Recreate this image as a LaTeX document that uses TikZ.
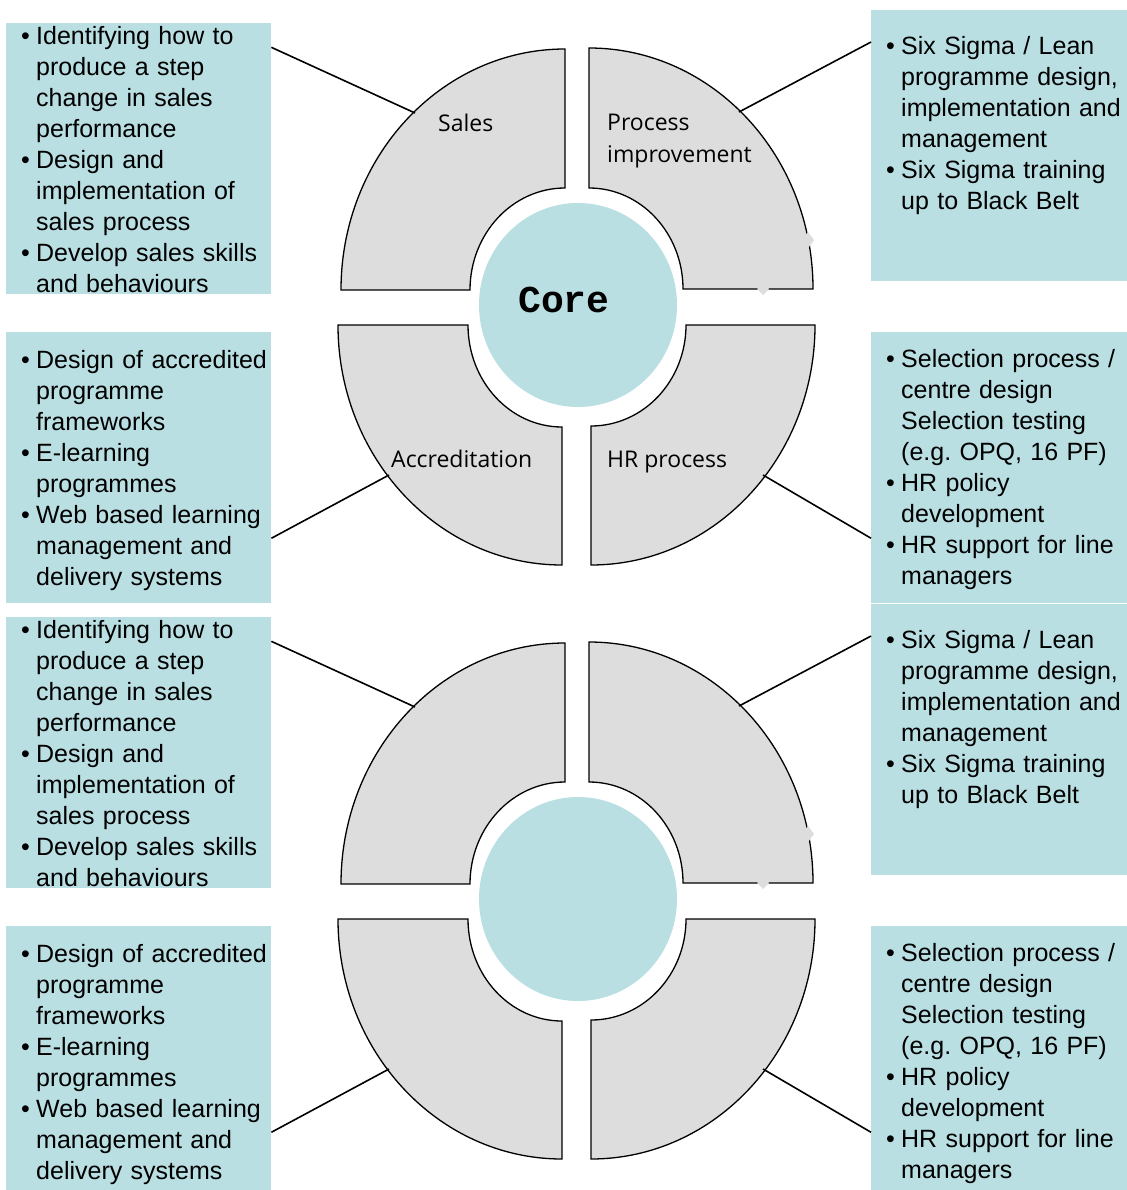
\documentclass[tikz,border=0pt]{standalone}
\usepackage{fontspec}
\setmainfont{Liberation Sans}
\newfontfamily\quadfont{Open Sans}
\newfontfamily\corefont{Liberation Mono}
\usetikzlibrary{positioning,shapes.geometric}

\definecolor{boxblue}{RGB}{185,223,227}
\definecolor{quadgray}{RGB}{221,221,221}

\newcommand{\itm}[1]{\par\hangindent=15pt\hangafter=1\noindent\makebox[15pt][l]{\strut\textbullet}#1\par}

\tikzset{
	infobox/.style={rectangle, fill=boxblue, minimum width=265pt, minimum height=271pt, inner sep=0pt, anchor=north west},
	listtext/.style={inner sep=0pt, text width=250pt, font=\fontsize{25}{31}\selectfont\raggedright},
	quad/.style={fill=quadgray, draw=black, line width=1.3pt},
	quadlabel/.style={font=\quadfont\fontsize{23}{32}\selectfont, inner sep=0pt, anchor=base west, align=left},
	link/.style={draw=black, line width=1.6pt},
}

\begin{document}
\begin{tikzpicture}[x=1pt, y=-1pt]
		\useasboundingbox (0,0) rectangle (1126,1190);
		
		\foreach \dy/\n in {0/a,594/b}{
		\begin{scope}[shift={(0,\dy)}]
		% text boxes
		\node[infobox] (salesbox\n) at (6,23) {};
		\node[infobox] (procbox\n) at (871,10) {};
		\node[infobox] (accbox\n) at (6,332) {};
		\node[infobox] (hrbox\n) at (871,332) {};
		
		\node[listtext, below right=-10pt and 15pt of salesbox\n.north west] (salestext\n) {%
			\itm{Identifying how to\newline produce a step\newline change in sales\newline performance}
			\itm{Design and\newline implementation of\newline sales process}
			\itm{Develop sales skills\newline and behaviours}};
		\node[listtext, below right=13pt and 15pt of procbox\n.north west] (proctext\n) {%
			\itm{Six Sigma / Lean\newline programme design,\newline implementation and\newline management}
			\itm{Six Sigma training\newline up to Black Belt}};
		\node[listtext, below right=5pt and 15pt of accbox\n.north west] (acctext\n) {%
			\itm{Design of accredited\newline programme\newline frameworks}
			\itm{E-learning\newline programmes}
			\itm{Web based learning\newline management and\newline delivery systems}};
		\node[listtext, below right=4pt and 15pt of hrbox\n.north west] (hrtext\n) {%
			\itm{Selection process /\newline centre design\newline Selection testing\newline (e.g.\ OPQ, 16 PF)}
			\itm{HR policy\newline development}
			\itm{HR support for line\newline managers}};
		
		% core
		\node[ellipse, fill=boxblue, minimum width=198pt, minimum height=204pt, inner sep=0pt] (hub\n) at (578,305) {};
		
		% quadrants
		\draw[quad] (341,290) arc[start angle=180, end angle=270, x radius=224, y radius=241]
			-- (565,188) arc[start angle=270, end angle=180, x radius=95, y radius=102] -- cycle;
		\draw[quad] (589,48) arc[start angle=270, end angle=360, x radius=224, y radius=241]
			-- (683,289) arc[start angle=0, end angle=-90, x radius=94, y radius=101] -- cycle;
		\draw[quad] (338,325) arc[start angle=180, end angle=90, x radius=224, y radius=240]
			-- (562,427) arc[start angle=90, end angle=180, x radius=94, y radius=102] -- cycle;
		\draw[quad] (815,325) arc[start angle=0, end angle=90, x radius=224, y radius=240]
			-- (591,426) arc[start angle=90, end angle=0, x radius=95, y radius=101] -- cycle;
		
		% handles
		\fill[quadgray] (802,240) -- (808,232) -- (814,240) -- (808,248) -- cycle;
		\fill[quadgray] (757,289) -- (763,283) -- (769,289) -- (763,295) -- cycle;
		
		% links
		\coordinate (salesend\n) at (415,113);
		\coordinate (procend\n) at (739,112);
		\coordinate (accend\n) at (389,475);
		\coordinate (hrend\n) at (763,475);
		\draw[link] (salesbox\n.40) -- (salesend\n);
		\draw[link] (procbox\n.142.6) -- (procend\n);
		\draw[link] (accbox\n.332.3) -- (accend\n);
		\draw[link] (hrbox\n.208.9) -- (hrend\n);
		
		\ifnum\dy=0
		% labels
		\node[quadlabel] (saleslbl) at (438,132) {Sales};
		\node[quadlabel] (proclbl) at (607,163) {Process\\improvement};
		\node[quadlabel] (acclbl) at (391,467) {Accreditation};
		\node[quadlabel] (hrlbl) at (607,467) {HR process};
		\node[font=\corefont\bfseries\fontsize{38}{38}\selectfont, inner sep=0pt, anchor=base west] (core) at (518,312) {Core};
		\fi
		\end{scope}
		}
		
		\end{tikzpicture}
\end{document}
